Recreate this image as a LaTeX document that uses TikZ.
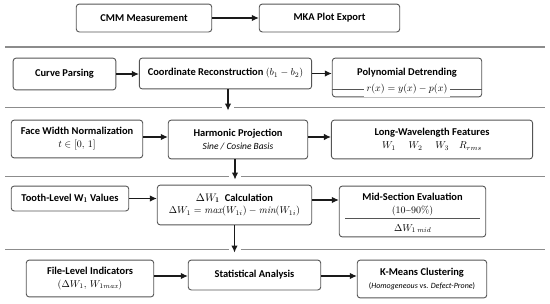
\documentclass[tikz,border=0pt]{standalone}
\usepackage{fontspec}
\setsansfont{Carlito}
\usetikzlibrary{arrows.meta,calc}
\definecolor{boxline}{HTML}{555555}
\definecolor{sepline}{HTML}{8C8C8C}
\definecolor{arrowcol}{HTML}{1A1A1A}
\begin{document}
\begin{tikzpicture}[>={Latex[length=7bp,width=6.5bp]},x=1bp,y=-1bp,font=\sffamily\fontsize{10}{12}\selectfont]
\tikzstyle{b}=[draw=boxline,line width=0.9bp,rounded corners=3bp,fill=white,align=center,inner sep=1bp]
\tikzstyle{hd}=[font=\sffamily\bfseries\fontsize{10.5}{12}\selectfont,inner sep=1bp]
\tikzstyle{a}=[->,line width=1.1bp,arrowcol]
\tikzstyle{sep}=[line width=1.3bp,sepline]
\useasboundingbox (0,0) rectangle (550,303);
% row 1
\node[b,hd,minimum width=136,minimum height=28] (cmm) at (144,18) {CMM Measurement};
\node[b,hd,minimum width=141,minimum height=28] (mka) at (329.5,18) {MKA Plot Export};
\draw[a] (cmm) -- (mka);
\draw[sep] (5,47) -- (545,47);
% row 2
\node[b,hd,minimum width=103,minimum height=32] (parse) at (64.5,74) {Curve Parsing};
\node[b,minimum width=173,minimum height=31] (coord) at (225.5,73.5) {\bfseries\fontsize{10.5}{12}\selectfont Coordinate Reconstruction \mdseries\normalsize $(b_1 - b_2)$};
\node[b,minimum width=150,minimum height=39] (poly) at (407,77.5) {};
\node[hd] (polyt) at (407,73) {Polynomial Detrending};
\draw[boxline,line width=0.8bp] (poly.west|-0,89) -- (poly.east|-0,89);
\node[fill=white,inner sep=3bp] (polyeq) at (407,89) {$r(x) = y(x) - p(x)$};
\draw[a] (parse.east) -- (parse.east-|coord.west);
\draw[a] (coord.east) -- (coord.east-|poly.west);
\coordinate (d1) at ($(coord.south|-0,110.5)+(2.5,0)$);
\draw[sep] (5,107.5) -- ($(d1|-0,107.5)+(-6,0)$) ($(d1|-0,107.5)+(6,0)$) -- (545,107.5);
\draw[a] (coord.south-|d1) -- (d1);
% row 3
\node[b,minimum width=132,minimum height=38] (face) at (77,139) {{\bfseries\fontsize{10.5}{12}\selectfont Face Width Normalization}\\[1bp] $t \in [0,\,1]$};
\node[b,minimum width=140,minimum height=39] (harm) at (238,139.5) {{\bfseries\fontsize{10.5}{12}\selectfont Harmonic Projection}\\[2bp] {\itshape\fontsize{9.5}{11}\selectfont Sine / Cosine Basis}};
\node[b,minimum width=202,minimum height=39] (long) at (432,139.5) {{\bfseries\fontsize{10.5}{12}\selectfont Long-Wavelength Features}\\[1bp] $W_1\quad\; W_2\quad\; W_3\quad R_{rms}$};
\draw[a] (face.east|-0,137) -- (harm.west|-0,137);
\draw[a] (harm.east|-0,137) -- (long.west|-0,137);
\coordinate (d2) at ($(harm.south|-0,179.5)+(-3,0)$);
\draw[sep] (5,176.5) -- ($(d2|-0,176.5)+(-6,0)$) ($(d2|-0,176.5)+(6,0)$) -- (545,176.5);
\draw[a] (harm.south-|d2) -- (d2);
% row 4
\node[b,hd,minimum width=118,minimum height=25] (tooth) at (70,198.5) {Tooth-Level W$_{\mathbf{1}}$ Values};
\node[b,minimum width=155,minimum height=40] (calc) at (234.5,205) {{\bfseries\fontsize{10.5}{12}\selectfont $\Delta W_{\mathbf{1}}$\; Calculation}\\[1bp] $\Delta W_1 = \mathit{max}(W_{1i}) - \mathit{min}(W_{1i})$};
\node[b,minimum width=147,minimum height=51] (mid) at (412.5,211.5) {};
\node[hd] (midt) at (412.5,197) {Mid-Section Evaluation};
\node[inner sep=1bp] (midr) at (412.5,211) {\rmfamily (10\textasciitilde 90\%)};
\draw[boxline,line width=0.8bp] (345,218.5) -- (480,218.5);
\node[inner sep=1bp] (midw) at (412.5,228.5) {$\Delta W_{1\,\mathit{mid}}$};
\draw[a] (tooth.east) -- (tooth.east-|calc.west);
\draw[a] (calc.east|-0,200) -- (mid.west|-0,200);
\coordinate (d3) at (calc.south|-0,252.5);
\draw[sep] (5,249.5) -- ($(d3|-0,249.5)+(-6,0)$) ($(d3|-0,249.5)+(6,0)$) -- (545,249.5);
\draw[a] (calc) -- (d3);
% row 5
\node[b,minimum width=128,minimum height=37] (file) at (90,278.5) {{\bfseries\fontsize{10.5}{12}\selectfont File-Level Indicators}\\[1bp] $(\Delta W_1,\,W_{1\mathit{max}})$};
\node[b,hd,minimum width=133,minimum height=30] (stat) at (254.5,275) {Statistical Analysis};
\node[b,minimum width=130,minimum height=38] (kmeans) at (422,279) {{\bfseries\fontsize{10.5}{12}\selectfont K-Means Clustering}\\[2bp] {\fontsize{8}{9}\selectfont(\textit{Homogeneous} vs. \textit{Defect-Prone})}};
\draw[a] (file.east|-0,276) -- (stat.west|-0,276);
\draw[a] (stat.east|-0,276) -- (kmeans.west|-0,276);
\end{tikzpicture}
\end{document}
